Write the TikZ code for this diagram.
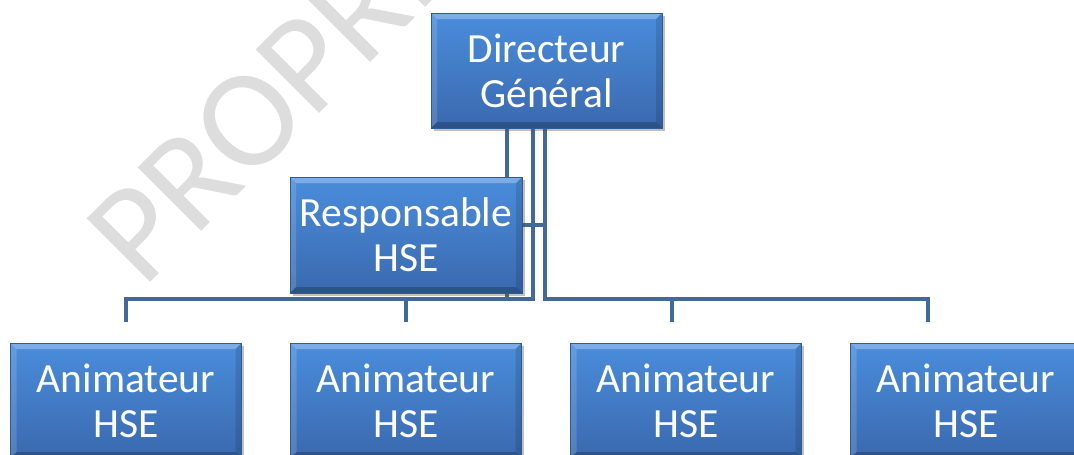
\documentclass[tikz,border=0pt]{standalone}
\usepackage{fontspec}
\setmainfont{Carlito}
\usetikzlibrary{shadows,backgrounds}
\definecolor{boxtop}{HTML}{4A8DDC}
\definecolor{boxbot}{HTML}{3A69AE}
\definecolor{boxedge}{HTML}{2F5C97}
\definecolor{conncol}{HTML}{416A9B}
\definecolor{wmgray}{HTML}{DDDDDD}
\tikzset{
  orgbox/.style={rectangle, minimum width=231pt, minimum height=115pt, inner sep=0pt,
    top color=boxtop, bottom color=boxbot, draw=boxedge, line width=0.6pt,
    text=white, align=center, font=\fontsize{41.5}{45}\selectfont,
    drop shadow={shadow xshift=2.5pt, shadow yshift=-3pt, opacity=0.35, fill=black!70},
    path picture={
      \fill[white,opacity=0.28] (path picture bounding box.north west) -- (path picture bounding box.north east)
        -- ([shift={(-6pt,-6pt)}]path picture bounding box.north east) -- ([shift={(6pt,-6pt)}]path picture bounding box.north west) -- cycle;
      \fill[white,opacity=0.14] (path picture bounding box.north west) -- ([shift={(6pt,-6pt)}]path picture bounding box.north west)
        -- ([shift={(6pt,6pt)}]path picture bounding box.south west) -- (path picture bounding box.south west) -- cycle;
      \fill[black,opacity=0.12] (path picture bounding box.north east) -- ([shift={(-6pt,-6pt)}]path picture bounding box.north east)
        -- ([shift={(-6pt,6pt)}]path picture bounding box.south east) -- (path picture bounding box.south east) -- cycle;
      \fill[black,opacity=0.22] (path picture bounding box.south west) -- (path picture bounding box.south east)
        -- ([shift={(-6pt,6pt)}]path picture bounding box.south east) -- ([shift={(6pt,6pt)}]path picture bounding box.south west) -- cycle;
    }},
  connline/.style={draw=conncol, line width=4pt, line join=miter}
}
\begin{document}
\begin{tikzpicture}[x=1pt,y=-1pt]
\useasboundingbox (0,0) rectangle (1074,455);
\begin{pgfonlayer}{background}
  \fill[white] (0,0) rectangle (1074,455);
  \clip (0,0) rectangle (1074,455);
  \node[rotate=45, anchor=base west, text=wmgray, inner sep=0pt,
        font=\fontsize{140}{140}\selectfont] (wm) at (143,290) {PROPRIÉTÉ};
\end{pgfonlayer}
\begin{scope}
\clip (0,0) rectangle (1074,455);
\node[orgbox] (dg) at (546.5,70.5) {Directeur\\Général};
\node[orgbox, minimum width=232pt, minimum height=116pt] (rh) at (406,235) {Responsable\\HSE};
\node[orgbox] (a1) at (126,400.5) {Animateur\\HSE};
\node[orgbox] (a2) at (406,400.5) {Animateur\\HSE};
\node[orgbox] (a3) at (686,400.5) {Animateur\\HSE};
\node[orgbox] (a4) at (966,400.5) {Animateur\\HSE};
\end{scope}
\coordinate (b0) at (507,299);
\coordinate (b1) at (126,299);
\coordinate (b2) at (406,299);
\coordinate (b3) at (672,299);
\coordinate (b4) at (928,299);
\coordinate (rj) at (545,225);
\begin{pgfonlayer}{background}
  \draw[connline] ([xshift=-39.5pt]dg.south) -- (b0);
  \draw[connline] ([xshift=-13.5pt]dg.south) |- (b1) -- ([yshift=21pt]a1.north);
  \draw[connline] (b2) -- ([yshift=21pt]a2.north);
  \draw[connline] ([xshift=-1.5pt]dg.south) |- (b4) -- ([shift={(-38pt,21pt)}]a4.north);
  \draw[connline] (b3) -- ([shift={(-14pt,21pt)}]a3.north);
  \draw[connline] (rh.east |- rj) -- (rj);
\end{pgfonlayer}
\end{tikzpicture}
\end{document}
